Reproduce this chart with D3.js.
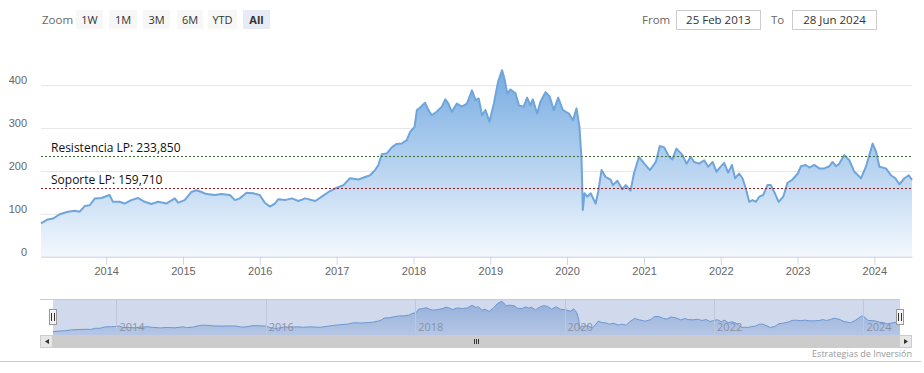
<!DOCTYPE html>
<html lang="es">
<head>
<meta charset="utf-8">
<title>chart</title>
<script src="https://cdn.jsdelivr.net/npm/d3@7"></script>
<style>
  body { margin: 0; background: #fff; }
  svg { font-family: "Open Sans", "DejaVu Sans", sans-serif; }
  .axis text { fill: #666; font-size: 11px; }
  .axis path, .axis line { stroke: #ccd6eb; }
  .grid line { stroke: #e6e6e6; }
  .grid path { display: none; }
  .grid text { fill: #666; font-size: 11px; }
  .btn text { font-size: 11px; fill: #333; }
</style>
</head>
<body>
<div id="chart"></div>
<script>
// data
var dates = [
  "2013-02-25","2013-03-29","2013-04-23","2013-05-25","2013-07-03","2013-08-04","2013-08-28","2013-09-21",
  "2013-10-15","2013-11-08","2013-12-09","2014-01-17","2014-02-02","2014-03-05","2014-03-29","2014-04-30",
  "2014-06-01","2014-07-03","2014-08-04","2014-09-05","2014-10-14","2014-11-23","2014-12-09","2015-01-09",
  "2015-02-10","2015-03-06","2015-03-30","2015-04-23","2015-06-01","2015-07-03","2015-08-12","2015-09-05",
  "2015-09-28","2015-10-30","2015-12-01","2016-01-01","2016-01-25","2016-02-18","2016-03-13","2016-03-29",
  "2016-04-30","2016-06-01","2016-07-03","2016-08-04","2016-09-21","2016-10-22","2016-11-23","2016-12-24",
  "2017-02-02","2017-03-05","2017-04-15","2017-05-16","2017-06-09","2017-07-02","2017-07-18","2017-08-03",
  "2017-08-27","2017-09-20","2017-10-13","2017-11-06","2017-11-30","2017-12-16","2018-01-06","2018-01-17",
  "2018-02-02","2018-02-25","2018-03-13","2018-03-29","2018-04-21","2018-05-16","2018-06-01","2018-06-16",
  "2018-07-02","2018-07-26","2018-08-19","2018-09-12","2018-10-06","2018-10-23","2018-11-07","2018-11-23",
  "2018-12-09","2018-12-28","2019-01-18","2019-02-07","2019-02-26","2019-03-11","2019-03-22","2019-04-07",
  "2019-05-01","2019-05-17","2019-06-09","2019-06-25","2019-07-11","2019-07-22","2019-08-12","2019-08-27",
  "2019-09-21","2019-10-10","2019-10-30","2019-11-20","2019-12-12","2020-01-10","2020-01-29","2020-02-15",
  "2020-02-29","2020-03-10","2020-03-16","2020-03-24","2020-04-06","2020-04-22","2020-05-16","2020-05-28",
  "2020-06-13","2020-07-02","2020-07-26","2020-08-06","2020-08-27","2020-09-20","2020-10-06","2020-10-29",
  "2020-11-14","2020-12-08","2021-01-02","2021-01-29","2021-02-26","2021-03-17","2021-04-07","2021-04-30",
  "2021-05-16","2021-06-04","2021-07-03","2021-07-22","2021-08-11","2021-08-27","2021-09-20","2021-10-14",
  "2021-11-02","2021-11-23","2021-12-12","2021-12-24","2022-01-17","2022-02-05","2022-02-23","2022-03-10",
  "2022-03-29","2022-04-14","2022-04-30","2022-05-16","2022-06-01","2022-06-17","2022-07-03","2022-07-22",
  "2022-08-11","2022-08-27","2022-09-12","2022-10-03","2022-10-25","2022-11-14","2022-12-08","2023-01-02",
  "2023-01-17","2023-02-09","2023-02-26","2023-03-21","2023-04-14","2023-05-08","2023-06-01","2023-06-16",
  "2023-07-03","2023-07-18","2023-08-11","2023-09-04","2023-09-28","2023-10-30","2023-11-22","2023-12-24",
  "2024-01-09","2024-01-25","2024-02-25","2024-03-20","2024-04-10","2024-04-29","2024-05-23","2024-06-13",
  "2024-06-28"
];
var prices = [
  78, 87, 89, 99, 105, 107, 105, 118,
  120, 136, 137, 144, 128, 128, 124, 132,
  137, 128, 123, 128, 124, 136, 126, 132,
  151, 155, 151, 146, 144, 146, 144, 132,
  136, 149, 148, 144, 126, 117, 124, 134,
  132, 136, 130, 136, 130, 140, 151, 159,
  167, 183, 180, 186, 190, 202, 214, 239,
  241, 255, 263, 264, 272, 291, 303, 342,
  348, 359, 342, 330, 338, 350, 367, 357,
  338, 357, 350, 357, 388, 365, 369, 330,
  342, 315, 357, 408, 435, 412, 381, 390,
  381, 353, 350, 371, 353, 367, 334, 361,
  384, 374, 342, 371, 342, 334, 318, 346,
  303, 225, 109, 148, 140, 148, 124, 151,
  202, 186, 180, 167, 177, 157, 167, 154,
  194, 233, 217, 202, 221, 258, 255, 233,
  227, 252, 237, 217, 233, 221, 217, 225,
  210, 221, 198, 206, 219, 196, 214, 183,
  194, 183, 159, 128, 132, 128, 140, 144,
  167, 167, 151, 128, 140, 172, 180, 194,
  211, 214, 208, 214, 206, 206, 211, 221,
  211, 217, 237, 225, 198, 183, 210, 264,
  245, 210, 206, 190, 183, 169, 183, 190,
  179
];
var yTicks = [0, 100, 200, 300, 400];
var plotLineNames = ["Resistencia LP: 233,850", "Soporte LP: 159,710"];
var plotLineValues = [233.85, 159.71];
var plotLineColors = ["#3d6b35", "#8e1c22"];
var zoomButtons = ["1W", "1M", "3M", "6M", "YTD", "All"];
var fromDate = "25 Feb 2013";
var toDate = "28 Jun 2024";
var credit = "Estrategias de Inversión";

var W = 924, H = 373;
var parse = d3.timeParse("%Y-%m-%d");
var data = dates.map(function (d, i) { return { date: parse(d), value: prices[i] }; });

var svg = d3.select("#chart").append("svg").attr("width", W).attr("height", H);

var defs = svg.append("defs");
var grad = defs.append("linearGradient").attr("id", "fillMain")
  .attr("gradientUnits", "userSpaceOnUse")
  .attr("x1", 0).attr("x2", 0).attr("y1", 64).attr("y2", 257);
grad.append("stop").attr("offset", 0).attr("stop-color", "#73a9e1");
grad.append("stop").attr("offset", 1).attr("stop-color", "#f3f8fd");

var gradNav = defs.append("linearGradient").attr("id", "fillNav")
  .attr("gradientUnits", "userSpaceOnUse")
  .attr("x1", 0).attr("x2", 0).attr("y1", 300).attr("y2", 335);
gradNav.append("stop").attr("offset", 0).attr("stop-color", "#5d8fd0");
gradNav.append("stop").attr("offset", 1).attr("stop-color", "#b9cbe9");

// ---- range selector ----
svg.append("text").attr("x", 42).attr("y", 23.5).attr("fill", "#666")
  .style("font-size", "11.5px").text("Zoom");

var btnX = [76, 109, 143, 177, 208, 243];
var btnW = [27, 28, 27, 26, 29, 27];
var btn = svg.selectAll("g.btn").data(zoomButtons).enter().append("g").attr("class", "btn");
btn.append("rect")
  .attr("x", function (d, i) { return btnX[i]; }).attr("y", 10)
  .attr("width", function (d, i) { return btnW[i]; }).attr("height", 19)
  .attr("fill", function (d) { return d === "All" ? "#e6ebf5" : "#f7f7f7"; });
btn.append("text")
  .attr("x", function (d, i) { return btnX[i] + btnW[i] / 2; }).attr("y", 23.5)
  .attr("text-anchor", "middle")
  .style("font-weight", function (d) { return d === "All" ? "bold" : "normal"; })
  .text(function (d) { return d; });

svg.append("text").attr("x", 642).attr("y", 23.5).attr("fill", "#666").style("font-size", "11.5px").text("From");
svg.append("text").attr("x", 771).attr("y", 23.5).attr("fill", "#666").style("font-size", "11.5px").text("To");
[[676, fromDate], [792, toDate]].forEach(function (b) {
  svg.append("rect").attr("x", b[0] + 0.5).attr("y", 10.5).attr("width", 84).attr("height", 19)
    .attr("fill", "#fff").attr("stroke", "#ccc");
  svg.append("text").attr("x", b[0] + 42.5).attr("y", 23.5).attr("text-anchor", "middle")
    .attr("fill", "#333").style("font-size", "11.5px").text(b[1]);
});

// ---- main plot ----
var x0 = 41, x1 = 912, yBottom = 256.7;
var x = d3.scaleTime().domain([data[0].date, data[data.length - 1].date]).range([x0, x1]);
var y = d3.scaleLinear().domain([0, 450]).range([yBottom, yBottom - 450 * 0.42875]);

var gy = svg.append("g").attr("class", "grid").attr("transform", "translate(" + x0 + ",0)")
  .call(d3.axisLeft(y).tickValues(yTicks).tickSize(-(x1 - x0)).tickPadding(14));
gy.selectAll("text").attr("dy", "-0.14em");

var area = d3.area().x(function (d) { return x(d.date); }).y0(yBottom).y1(function (d) { return y(d.value); });
var line = d3.line().x(function (d) { return x(d.date); }).y(function (d) { return y(d.value); });

svg.append("path").datum(data).attr("d", area).attr("fill", "url(#fillMain)");
svg.append("path").datum(data).attr("d", line).attr("fill", "none")
  .attr("stroke", "#6fa5db").attr("stroke-width", 2).attr("stroke-linejoin", "round");

plotLineValues.forEach(function (v, i) {
  svg.append("line").attr("x1", x0).attr("x2", x1).attr("y1", Math.round(y(v)) + 0.5).attr("y2", Math.round(y(v)) + 0.5)
    .attr("stroke", plotLineColors[i]).attr("stroke-dasharray", "2,2");
  svg.append("text").attr("x", 51).attr("y", y(v) - 4).attr("fill", "#111")
    .style("font-size", "12px").text(plotLineNames[i]);
});

var gx = svg.append("g").attr("class", "axis").attr("transform", "translate(0," + yBottom + ")")
  .call(d3.axisBottom(x).ticks(d3.timeYear.every(1)).tickFormat(d3.timeFormat("%Y")).tickSize(8).tickSizeOuter(0));

// ---- navigator ----
var nx = d3.scaleTime().domain(x.domain()).range([53, 900]);
var ny = d3.scaleLinear().domain([40, 450]).range([335, 300]);
var navArea = d3.area().x(function (d) { return nx(d.date); }).y0(335).y1(function (d) { return ny(d.value); });
var navLine = d3.line().x(function (d) { return nx(d.date); }).y(function (d) { return ny(d.value); });

svg.append("path").datum(data).attr("d", navArea).attr("fill", "url(#fillNav)").attr("opacity", 0.55);
svg.append("path").datum(data).attr("d", navLine).attr("fill", "none").attr("stroke", "#6f9fd8").attr("stroke-width", 1);

var navTicks = nx.ticks(d3.timeYear.every(2));
svg.selectAll("line.navgrid").data(navTicks).enter().append("line")
  .attr("x1", function (d) { return Math.round(nx(d)) + 0.5; }).attr("x2", function (d) { return Math.round(nx(d)) + 0.5; })
  .attr("y1", 299).attr("y2", 335).attr("stroke", "#e6e6e6");
svg.selectAll("text.navlab").data(navTicks).enter().append("text")
  .attr("x", function (d) { return nx(d) + 3; }).attr("y", 331)
  .attr("fill", "#999").style("font-size", "11px").text(d3.timeFormat("%Y"));

svg.append("rect").attr("x", 53).attr("y", 299).attr("width", 847).attr("height", 36)
  .attr("fill", "rgba(102,133,194,0.3)");
svg.append("line").attr("x1", 40).attr("x2", 900).attr("y1", 299.5).attr("y2", 299.5).attr("stroke", "#ccc");

[53, 900].forEach(function (hx) {
  svg.append("rect").attr("x", hx - 3.5).attr("y", 309.5).attr("width", 7).attr("height", 15)
    .attr("fill", "#f2f2f2").attr("stroke", "#999");
  [-1.5, 1.5].forEach(function (o) {
    svg.append("line").attr("x1", hx + o).attr("x2", hx + o).attr("y1", 313).attr("y2", 321).attr("stroke", "#333");
  });
});

// scrollbar
svg.append("rect").attr("x", 40).attr("y", 335).attr("width", 872).attr("height", 13).attr("fill", "#f2f2f2");
svg.append("rect").attr("x", 53).attr("y", 335).attr("width", 846).attr("height", 13).attr("fill", "#cccccc");
[[40, "M45,341.5 L49,339 L49,344 Z"], [899, "M908,341.5 L904,339 L904,344 Z"]].forEach(function (b) {
  svg.append("rect").attr("x", b[0] + 0.5).attr("y", 335.5).attr("width", 12).attr("height", 12)
    .attr("fill", "#e6e6e6").attr("stroke", "#ccc");
  svg.append("path").attr("d", b[1]).attr("fill", "#333");
});
[-2, 0, 2].forEach(function (o) {
  svg.append("line").attr("x1", 476.5 + o).attr("x2", 476.5 + o).attr("y1", 339).attr("y2", 344).attr("stroke", "#333");
});

// credits + bottom rule
svg.append("text").attr("x", 912).attr("y", 357).attr("text-anchor", "end")
  .attr("fill", "#999").style("font-size", "9px").text(credit);
svg.append("line").attr("x1", 0).attr("x2", 921).attr("y1", 361.5).attr("y2", 361.5).attr("stroke", "#ccc");
</script>
</body>
</html>
